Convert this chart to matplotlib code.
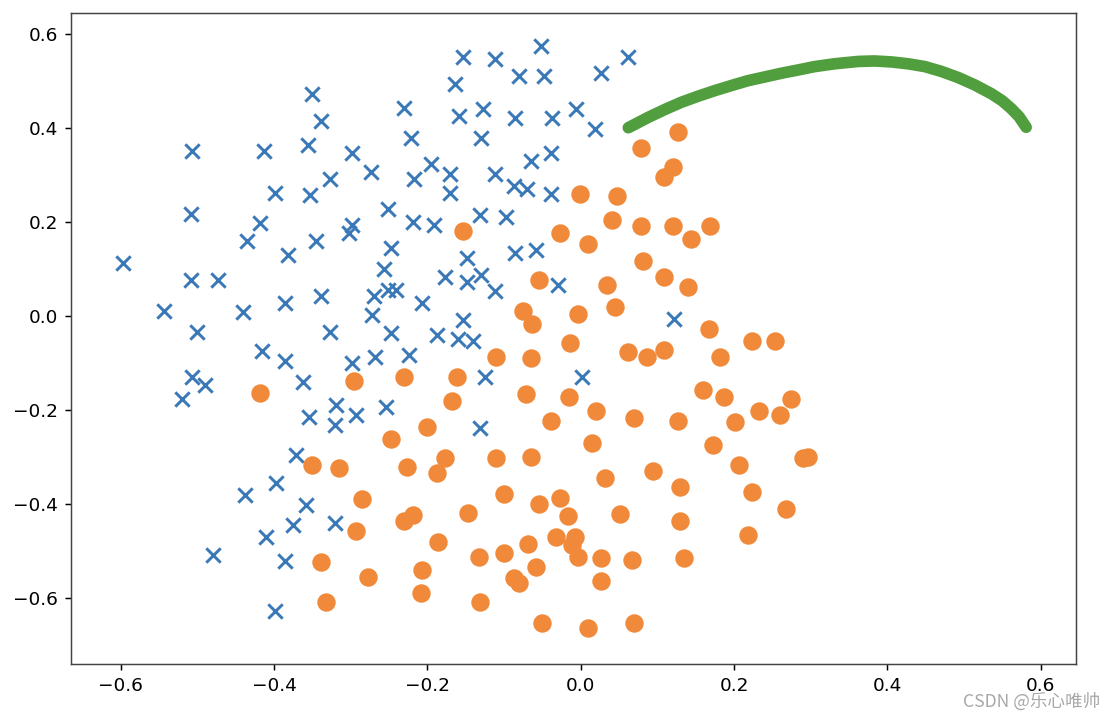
import numpy as np
import matplotlib.pyplot as plt

plt.rcParams['font.family'] = ['DejaVu Sans', 'Noto Sans CJK SC']

# class 0 (blue x)
x0 = [-0.350, -0.339, -0.231, -0.222, -0.507, -0.413, -0.356, -0.298, -0.274, -0.327,
      -0.217, -0.399, -0.353, -0.251, -0.509, -0.418, -0.298, -0.303, -0.219, -0.436,
      -0.346, -0.382, -0.248, -0.597, -0.257, -0.509, -0.473, -0.251, -0.241, -0.339,
      -0.386, -0.270, -0.544, -0.441, -0.272, -0.501, -0.327, -0.248,
      -0.052, -0.154, -0.112, 0.062, -0.081, -0.048, 0.026, -0.164, -0.128, -0.159,
      -0.086, -0.037, -0.006, 0.018, -0.130, -0.039, -0.065, -0.196, -0.170, -0.112,
      -0.170, -0.087, -0.070, -0.039, -0.191, -0.131, -0.097, -0.086, -0.058, -0.149,
      -0.177, -0.149, -0.130, -0.112, -0.030, -0.207, -0.154, 0.122,
      -0.188, -0.160, -0.140, -0.224, -0.125, 0.002, -0.131,
      -0.416, -0.386, -0.298, -0.269, -0.507, -0.490, -0.520, -0.363, -0.319, -0.293,
      -0.254, -0.355, -0.320, -0.371, -0.397, -0.438, -0.358, -0.376, -0.321, -0.410,
      -0.480, -0.386, -0.399]
y0 = [0.472, 0.416, 0.442, 0.379, 0.352, 0.352, 0.365, 0.348, 0.306, 0.292,
      0.292, 0.263, 0.258, 0.228, 0.217, 0.199, 0.194, 0.178, 0.200, 0.160,
      0.160, 0.130, 0.145, 0.114, 0.101, 0.076, 0.076, 0.056, 0.055, 0.042,
      0.029, 0.042, 0.011, 0.008, 0.003, -0.033, -0.033, -0.036,
      0.574, 0.552, 0.548, 0.552, 0.510, 0.510, 0.518, 0.494, 0.441, 0.425,
      0.421, 0.421, 0.441, 0.399, 0.379, 0.347, 0.330, 0.323, 0.302, 0.302,
      0.263, 0.276, 0.271, 0.260, 0.194, 0.216, 0.211, 0.135, 0.141, 0.123,
      0.084, 0.072, 0.088, 0.054, 0.067, 0.029, -0.008, -0.006,
      -0.040, -0.049, -0.053, -0.082, -0.129, -0.129, -0.238,
      -0.074, -0.095, -0.100, -0.086, -0.129, -0.146, -0.177, -0.141, -0.189, -0.210,
      -0.194, -0.215, -0.231, -0.295, -0.354, -0.380, -0.402, -0.444, -0.439, -0.470,
      -0.508, -0.520, -0.627]

# class 1 (orange dots)
x1 = [-0.154, -0.001, 0.047, 0.127, 0.078, 0.120, 0.109, 0.041, 0.078, 0.120,
      0.144, -0.027, 0.010, 0.081, 0.109, 0.140, -0.054, 0.034, 0.044, -0.076,
      -0.063, -0.004,
      0.169, 0.167, 0.224, 0.254, 0.182, 0.159, 0.187, 0.274, 0.232, 0.260,
      0.201, 0.172, 0.206, 0.290, 0.297, 0.224, 0.268, 0.218,
      -0.111, -0.065, -0.014, 0.062, 0.086, 0.109, -0.230, -0.162, -0.168, -0.071,
      -0.016, 0.020, -0.039, 0.070, 0.127, 0.015, -0.201, -0.227, -0.177, -0.188,
      -0.110, -0.065, 0.031, 0.094, 0.130, -0.100, -0.055, -0.027, -0.017, -0.147,
      -0.219, -0.230, 0.051, 0.130, -0.032, -0.008, -0.011, -0.003, -0.069, 0.026,
      0.067, 0.134, 0.026, -0.186, -0.133, -0.100, -0.058, -0.087, -0.081, -0.207,
      -0.209, -0.131, -0.050, 0.010, 0.070,
      -0.418, -0.296, -0.248, -0.350, -0.316, -0.285, -0.293, -0.339, -0.277, -0.332]
y1 = [0.182, 0.260, 0.255, 0.391, 0.357, 0.318, 0.297, 0.205, 0.191, 0.191,
      0.165, 0.178, 0.153, 0.118, 0.084, 0.063, 0.076, 0.067, 0.020, 0.011,
      -0.017, 0.004,
      0.191, -0.027, -0.053, -0.053, -0.086, -0.158, -0.171, -0.176, -0.201, -0.210,
      -0.226, -0.274, -0.316, -0.302, -0.299, -0.375, -0.410, -0.465,
      -0.086, -0.089, -0.056, -0.077, -0.086, -0.073, -0.129, -0.129, -0.180, -0.166,
      -0.171, -0.202, -0.222, -0.217, -0.222, -0.269, -0.235, -0.320, -0.302, -0.334,
      -0.302, -0.299, -0.345, -0.329, -0.363, -0.379, -0.400, -0.387, -0.426, -0.418,
      -0.423, -0.435, -0.421, -0.435, -0.469, -0.469, -0.487, -0.512, -0.485, -0.515,
      -0.519, -0.515, -0.563, -0.481, -0.512, -0.503, -0.533, -0.558, -0.567, -0.540,
      -0.588, -0.609, -0.652, -0.664, -0.652,
      -0.163, -0.137, -0.261, -0.316, -0.323, -0.389, -0.457, -0.524, -0.554, -0.609]

# boundary curve
bx = [0.062, 0.088, 0.110, 0.131, 0.153, 0.175, 0.197, 0.218, 0.240, 0.262, 0.284,
      0.305, 0.331, 0.362, 0.383, 0.405, 0.427, 0.449, 0.470, 0.492, 0.514, 0.536,
      0.550, 0.562, 0.572, 0.581]
by = [0.401, 0.423, 0.440, 0.455, 0.468, 0.480, 0.491, 0.501, 0.509, 0.517, 0.524,
      0.531, 0.537, 0.542, 0.543, 0.541, 0.537, 0.531, 0.521, 0.508, 0.492, 0.473,
      0.458, 0.441, 0.424, 0.402]

dpi = 133.33
fig = plt.figure(figsize=(1108 / dpi, 720 / dpi), dpi=dpi)
ax = fig.add_axes([0.0641, 0.0778, 0.907, 0.9041])

ax.scatter(x0, y0, marker='x', s=60, linewidths=1.6, color='#3a78b8')
ax.scatter(x1, y1, marker='o', s=80, color='#f08a3a')
ax.plot(bx, by, '-', color='#519e3f', lw=6.3, solid_capstyle='round',
        solid_joinstyle='round')

ax.set_xlim(-0.665, 0.646)
ax.set_ylim(-0.740, 0.645)
ax.set_xticks([-0.6, -0.4, -0.2, 0.0, 0.2, 0.4, 0.6])
ax.set_yticks([-0.6, -0.4, -0.2, 0.0, 0.2, 0.4, 0.6])
for sp in ax.spines.values():
    sp.set_color('#444444')

fig.text(0.993, 0.025, 'CSDN @乐心唯帅', ha='right', va='center', fontsize=9.5,
         color='#a8a8a8', family=['Noto Sans CJK SC', 'DejaVu Sans'])

fig.savefig('out.png', dpi=dpi)
